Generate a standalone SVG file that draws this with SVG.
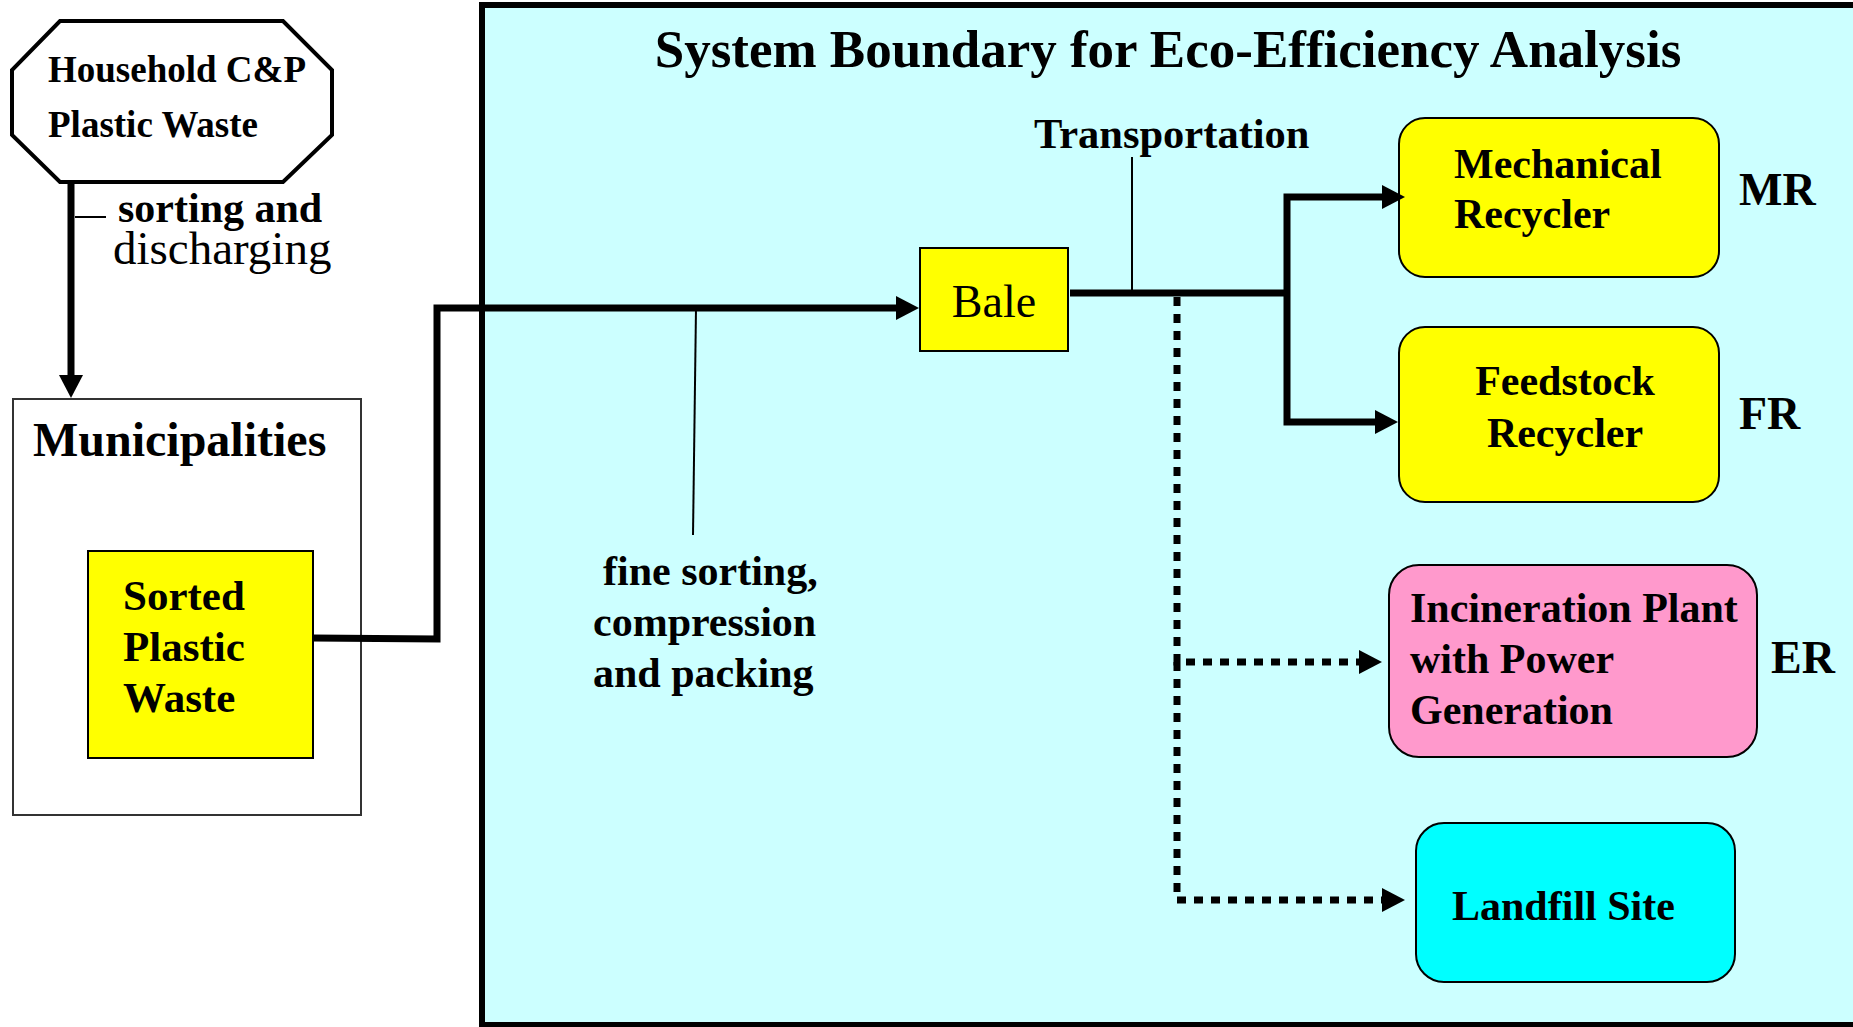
<svg xmlns="http://www.w3.org/2000/svg" width="1853" height="1027" viewBox="0 0 1853 1027">
<style>
text{font-family:"Liberation Serif","Times New Roman",serif;fill:#000}
.b{font-weight:bold}
.thick{fill:none;stroke:#000;stroke-width:7}
.dot{fill:none;stroke:#000;stroke-width:7;stroke-dasharray:9 8}
.thin{fill:none;stroke:#000;stroke-width:2}
.box{stroke:#000;stroke-width:2}
</style>
<defs>
<marker id="ah" markerUnits="userSpaceOnUse" markerWidth="26" markerHeight="24" refX="3" refY="12" orient="auto">
<path d="M0,0 L23,12 L0,24 z" fill="#000"/>
</marker>
</defs>
<rect width="1853" height="1027" fill="#fff"/>

<g id="boundary">
<rect x="482" y="5" width="1420" height="1020" fill="#CCFFFF" stroke="#000" stroke-width="6"/>
<text class="b" x="1168" y="67" font-size="53" text-anchor="middle">System Boundary for Eco-Efficiency Analysis</text>
</g>

<g id="household">
<polygon points="60,21 283,21 332,70 332,135 283,182 60,182 12,135 12,70" fill="#fff" stroke="#000" stroke-width="4"/>
<text class="b" x="48" y="82" font-size="37">Household C&amp;P</text>
<text class="b" x="48" y="137" font-size="37">Plastic Waste</text>
</g>

<g id="municipalities">
<rect x="13" y="399" width="348" height="416" fill="#fff" stroke="#333" stroke-width="2"/>
<text class="b" x="33" y="456" font-size="48">Municipalities</text>
</g>

<g id="sorted">
<rect class="box" x="88" y="551" width="225" height="207" fill="#FFFF00"/>
<text class="b" x="123" y="610" font-size="43">Sorted</text>
<text class="b" x="123" y="661" font-size="43">Plastic</text>
<text class="b" x="123" y="712" font-size="43">Waste</text>
</g>

<g id="bale">
<rect class="box" x="920" y="248" width="148" height="103" fill="#FFFF00"/>
<text x="994" y="317" font-size="46" text-anchor="middle">Bale</text>
</g>

<g id="mr">
<rect class="box" x="1399" y="118" width="320" height="159" rx="26" ry="26" fill="#FFFF00"/>
<text class="b" x="1454" y="178" font-size="42">Mechanical</text>
<text class="b" x="1454" y="228" font-size="42">Recycler</text>
<text class="b" x="1739" y="205" font-size="46">MR</text>
</g>

<g id="fr">
<rect class="box" x="1399" y="327" width="320" height="175" rx="26" ry="26" fill="#FFFF00"/>
<text class="b" x="1565" y="395" font-size="42" text-anchor="middle">Feedstock</text>
<text class="b" x="1565" y="447" font-size="42" text-anchor="middle">Recycler</text>
<text class="b" x="1739" y="429" font-size="46">FR</text>
</g>

<g id="er">
<rect class="box" x="1389" y="565" width="368" height="192" rx="30" ry="30" fill="#FF99CC"/>
<text class="b" x="1410" y="622" font-size="42">Incineration Plant</text>
<text class="b" x="1410" y="673" font-size="42">with Power</text>
<text class="b" x="1410" y="724" font-size="42">Generation</text>
<text class="b" x="1771" y="673" font-size="46">ER</text>
</g>

<g id="landfill">
<rect class="box" x="1416" y="823" width="319" height="159" rx="28" ry="28" fill="#00FFFF"/>
<text class="b" x="1452" y="920" font-size="42">Landfill Site</text>
</g>

<g id="connectors">
<path class="thick" d="M71,182 L71,378" marker-end="url(#ah)"/>
<path class="thin" d="M75,217 L106,217"/>
<path class="thick" d="M313,638 L437,639 L437,308 L899,308" marker-end="url(#ah)"/>
<path class="thin" d="M696,308 L693,535"/>
<path class="thick" d="M1070,293 L1287,293"/>
<path class="thin" d="M1132,157 L1132,293"/>
<path class="thick" d="M1287,293 L1287,197 L1385,197" marker-end="url(#ah)"/>
<path class="thick" d="M1287,293 L1287,422 L1378,422" marker-end="url(#ah)"/>
<path class="dot" d="M1177,297 L1177,662 L1362,662" marker-end="url(#ah)"/>
<path class="dot" d="M1177,662 L1177,900 L1385,900" marker-end="url(#ah)"/>
</g>

<g id="labels">
<text x="118" y="222"><tspan class="b" font-size="42">sorting and</tspan><tspan x="113" y="264" font-size="47">discharging</tspan></text>
<text class="b" x="1034" y="148" font-size="42.5">Transportation</text>
<text class="b" x="603" y="585" font-size="42">fine sorting,</text>
<text class="b" x="593" y="636" font-size="42">compression</text>
<text class="b" x="593" y="687" font-size="42">and packing</text>
</g>
</svg>
